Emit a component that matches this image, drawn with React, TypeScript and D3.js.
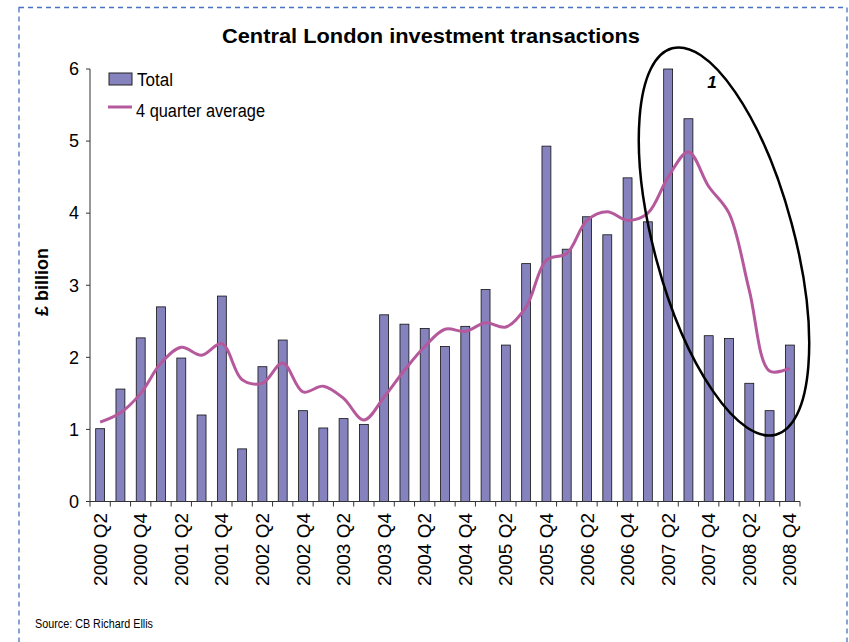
import React from 'react';
import * as d3 from 'd3';

const quarters = [
  '2000 Q2', '2000 Q3', '2000 Q4',
  '2001 Q1', '2001 Q2', '2001 Q3', '2001 Q4',
  '2002 Q1', '2002 Q2', '2002 Q3', '2002 Q4',
  '2003 Q1', '2003 Q2', '2003 Q3', '2003 Q4',
  '2004 Q1', '2004 Q2', '2004 Q3', '2004 Q4',
  '2005 Q1', '2005 Q2', '2005 Q3', '2005 Q4',
  '2006 Q1', '2006 Q2', '2006 Q3', '2006 Q4',
  '2007 Q1', '2007 Q2', '2007 Q3', '2007 Q4',
  '2008 Q1', '2008 Q2', '2008 Q3', '2008 Q4',
];

const totals = [
  1.01, 1.56, 2.27,
  2.70, 1.99, 1.20, 2.85,
  0.73, 1.87, 2.24, 1.26,
  1.02, 1.15, 1.07, 2.59,
  2.46, 2.40, 2.15, 2.43,
  2.94, 2.17, 3.30, 4.93,
  3.50, 3.95, 3.70, 4.49,
  3.88, 6.00, 5.31, 2.30,
  2.26, 1.64, 1.26, 2.17,
];

const fourQuarterAvg = [
  1.10, 1.23, 1.50,
  1.92, 2.14, 2.03, 2.19,
  1.69, 1.64, 1.92, 1.52,
  1.60, 1.43, 1.13, 1.45,
  1.82, 2.15, 2.39, 2.36,
  2.48, 2.42, 2.70, 3.35,
  3.44, 3.90, 4.02, 3.90,
  4.00, 4.50, 4.85, 4.37,
  4.00, 2.93, 1.81, 1.85,
];

const yTicks = [0, 1, 2, 3, 4, 5, 6];

const BAR = '#8682BE';
const LINE = '#B5589C';
const FONT = '"Liberation Sans", Arial, sans-serif';

export default function App() {
  const width = 849;
  const height = 642;

  const x = d3.scaleBand<string>()
    .domain(quarters)
    .range([90, 800])
    .paddingInner(0.56)
    .paddingOuter(0.28);

  const y = d3.scaleLinear().domain([0, 6]).range([501.5, 69]);

  const step = x.step();
  const x0 = x.range()[0];
  const boundaries = d3.range(quarters.length + 1).map((i) => x0 + i * step);

  const line = d3.line<number>()
    .x((_, i) => (x(quarters[i]) as number) + x.bandwidth() / 2)
    .y((d) => y(d))
    .curve(d3.curveCatmullRom.alpha(0.5));

  return (
    <svg width={width} height={height} style={{ display: 'block', position: 'absolute', left: 0, top: 0 }}>
      <rect x={0} y={0} width={width} height={height} fill="white" />
      <rect x={19} y={7.5} width={828} height={700} fill="none" stroke="#4A72C0" strokeWidth={1.3} strokeDasharray="5,4" />

      <text x={431} y={43} textAnchor="middle" fontFamily={FONT} fontWeight="bold" fontSize={21}
        textLength={418} lengthAdjust="spacingAndGlyphs">Central London investment transactions</text>

      {/* bars */}
      {totals.map((v, i) => (
        <rect key={quarters[i]} x={x(quarters[i])} y={y(v)} width={x.bandwidth()} height={y(0) - y(v)}
          fill={BAR} stroke="#111" strokeWidth={0.8} />
      ))}

      <path d={line(fourQuarterAvg) || ''} fill="none" stroke={LINE} strokeWidth={3} />

      {/* y axis */}
      <line x1={90} x2={90} y1={y(6)} y2={y(0)} stroke="#333" strokeWidth={1} />
      {yTicks.map((t) => (
        <g key={t}>
          <line x1={86} x2={90} y1={y(t)} y2={y(t)} stroke="#333" />
          <text x={79} y={y(t)} dy="0.35em" textAnchor="end" fontFamily={FONT} fontSize={18}>{t}</text>
        </g>
      ))}
      <text transform={`translate(48,${282}) rotate(-90)`} textAnchor="middle" fontFamily={FONT}
        fontWeight="bold" fontSize={18}>£ billion</text>

      {/* x axis */}
      <line x1={90} x2={800} y1={y(0)} y2={y(0)} stroke="#333" />
      {boundaries.map((b, i) => (
        <line key={i} x1={b} x2={b} y1={y(0)} y2={y(0) + 5} stroke="#333" />
      ))}
      {quarters.map((q, i) => i % 2 === 0 ? (
        <text key={q} transform={`translate(${(x(q) as number) + x.bandwidth() / 2 + 6.5},${513}) rotate(-90)`}
          textAnchor="end" fontFamily={FONT} fontSize={19}>{q}</text>
      ) : null)}

      {/* legend */}
      <rect x={109} y={73} width={23} height={12} fill={BAR} stroke="#222" strokeWidth={1} />
      <text x={137} y={86} fontFamily={FONT} fontSize={18} textLength={36} lengthAdjust="spacingAndGlyphs">Total</text>
      <line x1={108} x2={132} y1={107} y2={107} stroke={LINE} strokeWidth={3} />
      <text x={136} y={117} fontFamily={FONT} fontSize={18} textLength={129} lengthAdjust="spacingAndGlyphs">4 quarter average</text>

      {/* annotation */}
      <ellipse cx={724} cy={241.5} rx={70} ry={200} transform="rotate(-15,724,241.5)"
        fill="none" stroke="#000" strokeWidth={2.5} />
      <text x={712} y={88} textAnchor="middle" fontFamily={FONT} fontWeight="bold" fontStyle="italic" fontSize={17}>1</text>

      <text x={35} y={628} fontFamily={FONT} fontSize={12} textLength={118} lengthAdjust="spacingAndGlyphs">Source: CB Richard Ellis</text>
    </svg>
  );
}
